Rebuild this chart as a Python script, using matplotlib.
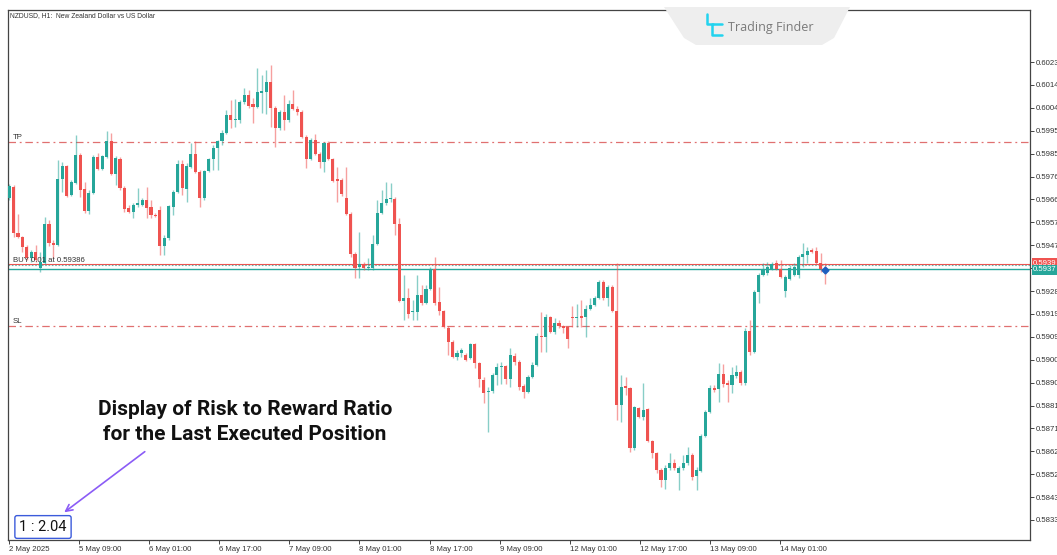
import matplotlib
matplotlib.use("Agg")
import matplotlib.pyplot as plt
import matplotlib.transforms as mtransforms
from matplotlib.patches import Polygon
import numpy as np

# NZDUSD H1 candles (oldest first)
opens = [
    0.59666, 0.59712, 0.59521, 0.59504, 0.59463, 0.59417, 0.59442, 0.59376, 0.59396, 0.59558,
    0.59479, 0.59471, 0.59745, 0.59799, 0.59678, 0.59728, 0.59844, 0.59703, 0.59612, 0.59687,
    0.59836, 0.59786, 0.59836, 0.59902, 0.59765, 0.59828, 0.59707, 0.59624, 0.59608, 0.59637,
    0.59637, 0.59658, 0.59629, 0.59595, 0.59616, 0.59467, 0.59500, 0.59629, 0.59691, 0.59807,
    0.59703, 0.59795, 0.59848, 0.59774, 0.59666, 0.59778, 0.59828, 0.59873, 0.59902, 0.59936,
    0.60010, 0.59989, 0.59989, 0.60064, 0.60093, 0.60056, 0.60043, 0.60101, 0.60106, 0.60147,
    0.60039, 0.59956, 0.60023, 0.59989, 0.60056, 0.60035, 0.60023, 0.59919, 0.59828, 0.59907,
    0.59848, 0.59815, 0.59894, 0.59828, 0.59745, 0.59741, 0.59666, 0.59600, 0.59434, 0.59380,
    0.59388, 0.59376, 0.59376, 0.59475, 0.59604, 0.59645, 0.59662, 0.59662, 0.59558, 0.59239,
    0.59251, 0.59193, 0.59193, 0.59264, 0.59230, 0.59288, 0.59371, 0.59235, 0.59197, 0.59127,
    0.59069, 0.59006, 0.59023, 0.59015, 0.59002, 0.59060, 0.58981, 0.58911, 0.58861, 0.58865,
    0.58932, 0.58965, 0.58969, 0.58915, 0.59011, 0.58986, 0.58886, 0.58861, 0.58923, 0.58973,
    0.59094, 0.59089, 0.59172, 0.59110, 0.59147, 0.59135, 0.59131, 0.59172, 0.59168, 0.59176,
    0.59172, 0.59205, 0.59222, 0.59251, 0.59317, 0.59251, 0.59297, 0.59197, 0.58807, 0.58886,
    0.58878, 0.58629, 0.58795, 0.58758, 0.58791, 0.58658, 0.58608, 0.58538, 0.58496, 0.58546,
    0.58567, 0.58525, 0.58546, 0.58567, 0.58600, 0.58513, 0.58534, 0.58679, 0.58778, 0.58878,
    0.58874, 0.58936, 0.58899, 0.58890, 0.58928, 0.58944, 0.58899, 0.59114, 0.59027, 0.59276,
    0.59346, 0.59355, 0.59371, 0.59396, 0.59371, 0.59280, 0.59330, 0.59346, 0.59346, 0.59421,
    0.59429, 0.59450, 0.59446, 0.59396, 0.59371,
]
highs = [
    0.59724, 0.59720, 0.59600, 0.59508, 0.59471, 0.59450, 0.59471, 0.59442, 0.59587, 0.59575,
    0.59492, 0.59824, 0.59815, 0.59803, 0.59741, 0.59927, 0.59853, 0.59732, 0.59699, 0.59844,
    0.59853, 0.59844, 0.59944, 0.59936, 0.59840, 0.59836, 0.59716, 0.59637, 0.59645, 0.59707,
    0.59666, 0.59712, 0.59658, 0.59604, 0.59633, 0.59512, 0.59637, 0.59699, 0.59824, 0.59824,
    0.59811, 0.59894, 0.59902, 0.59782, 0.59782, 0.59832, 0.59886, 0.59907, 0.59948, 0.60031,
    0.60072, 0.60077, 0.60072, 0.60122, 0.60114, 0.60081, 0.60205, 0.60176, 0.60197, 0.60218,
    0.60048, 0.60031, 0.60093, 0.60072, 0.60114, 0.60048, 0.60031, 0.59927, 0.59915, 0.59931,
    0.59857, 0.59898, 0.59902, 0.59832, 0.59795, 0.59749, 0.59795, 0.59608, 0.59442, 0.59525,
    0.59400, 0.59417, 0.59512, 0.59658, 0.59699, 0.59732, 0.59728, 0.59670, 0.59583, 0.59346,
    0.59293, 0.59243, 0.59346, 0.59305, 0.59305, 0.59380, 0.59421, 0.59297, 0.59201, 0.59135,
    0.59077, 0.59035, 0.59044, 0.59023, 0.59064, 0.59064, 0.58986, 0.58923, 0.58882, 0.58940,
    0.58981, 0.58986, 0.58973, 0.59044, 0.59023, 0.58994, 0.58894, 0.58932, 0.58986, 0.59106,
    0.59193, 0.59185, 0.59176, 0.59168, 0.59160, 0.59139, 0.59135, 0.59218, 0.59226, 0.59243,
    0.59222, 0.59251, 0.59259, 0.59326, 0.59326, 0.59305, 0.59305, 0.59396, 0.58932, 0.58923,
    0.58882, 0.58803, 0.58799, 0.58899, 0.58795, 0.58662, 0.58612, 0.58546, 0.58558, 0.58608,
    0.58583, 0.58554, 0.58600, 0.58633, 0.58608, 0.58550, 0.58687, 0.58787, 0.58890, 0.58890,
    0.58981, 0.58977, 0.58911, 0.58965, 0.58973, 0.58952, 0.59127, 0.59160, 0.59284, 0.59355,
    0.59396, 0.59400, 0.59400, 0.59409, 0.59409, 0.59346, 0.59388, 0.59396, 0.59429, 0.59479,
    0.59463, 0.59458, 0.59463, 0.59438, 0.59396,
]
lows = [
    0.59658, 0.59504, 0.59500, 0.59442, 0.59409, 0.59400, 0.59400, 0.59359, 0.59392, 0.59467,
    0.59417, 0.59467, 0.59691, 0.59670, 0.59674, 0.59724, 0.59670, 0.59604, 0.59600, 0.59683,
    0.59782, 0.59782, 0.59832, 0.59761, 0.59720, 0.59699, 0.59608, 0.59604, 0.59583, 0.59629,
    0.59633, 0.59583, 0.59583, 0.59587, 0.59429, 0.59429, 0.59492, 0.59595, 0.59687, 0.59678,
    0.59649, 0.59790, 0.59770, 0.59629, 0.59658, 0.59774, 0.59782, 0.59782, 0.59886, 0.59931,
    0.59956, 0.59960, 0.59977, 0.60056, 0.60039, 0.59977, 0.60039, 0.60018, 0.60014, 0.59960,
    0.59877, 0.59948, 0.59948, 0.59981, 0.60031, 0.60010, 0.59915, 0.59790, 0.59824, 0.59844,
    0.59790, 0.59774, 0.59824, 0.59732, 0.59649, 0.59674, 0.59595, 0.59421, 0.59334, 0.59334,
    0.59367, 0.59367, 0.59367, 0.59471, 0.59600, 0.59637, 0.59649, 0.59512, 0.59235, 0.59160,
    0.59168, 0.59160, 0.59160, 0.59222, 0.59226, 0.59284, 0.59222, 0.59181, 0.59127, 0.59015,
    0.59002, 0.58994, 0.59006, 0.58990, 0.58998, 0.58961, 0.58882, 0.58816, 0.58695, 0.58857,
    0.58890, 0.58894, 0.58894, 0.58882, 0.58973, 0.58869, 0.58836, 0.58857, 0.58919, 0.58969,
    0.59027, 0.59027, 0.59106, 0.59102, 0.59127, 0.59106, 0.59044, 0.59131, 0.59131, 0.59131,
    0.59089, 0.59201, 0.59218, 0.59247, 0.59243, 0.59218, 0.59193, 0.58745, 0.58737, 0.58849,
    0.58612, 0.58621, 0.58753, 0.58745, 0.58654, 0.58587, 0.58525, 0.58467, 0.58459, 0.58538,
    0.58538, 0.58455, 0.58538, 0.58558, 0.58496, 0.58455, 0.58529, 0.58675, 0.58774, 0.58861,
    0.58820, 0.58882, 0.58820, 0.58857, 0.58919, 0.58890, 0.58890, 0.59015, 0.59023, 0.59230,
    0.59342, 0.59346, 0.59367, 0.59367, 0.59334, 0.59255, 0.59326, 0.59342, 0.59334, 0.59380,
    0.59396, 0.59438, 0.59392, 0.59359, 0.59309,
]
closes = [
    0.59716, 0.59521, 0.59504, 0.59463, 0.59417, 0.59442, 0.59409, 0.59400, 0.59558, 0.59479,
    0.59471, 0.59745, 0.59799, 0.59674, 0.59732, 0.59844, 0.59699, 0.59612, 0.59687, 0.59836,
    0.59786, 0.59840, 0.59902, 0.59765, 0.59832, 0.59707, 0.59620, 0.59608, 0.59637, 0.59645,
    0.59658, 0.59624, 0.59595, 0.59591, 0.59467, 0.59500, 0.59633, 0.59691, 0.59807, 0.59707,
    0.59799, 0.59848, 0.59774, 0.59666, 0.59778, 0.59828, 0.59873, 0.59902, 0.59936, 0.60010,
    0.59989, 0.59994, 0.60064, 0.60093, 0.60048, 0.60043, 0.60106, 0.60110, 0.60147, 0.60039,
    0.59956, 0.60023, 0.59989, 0.60056, 0.60035, 0.60023, 0.59919, 0.59828, 0.59907, 0.59848,
    0.59815, 0.59894, 0.59828, 0.59736, 0.59736, 0.59683, 0.59600, 0.59434, 0.59376, 0.59392,
    0.59376, 0.59380, 0.59475, 0.59604, 0.59645, 0.59662, 0.59666, 0.59558, 0.59239, 0.59251,
    0.59185, 0.59197, 0.59264, 0.59230, 0.59288, 0.59371, 0.59230, 0.59197, 0.59131, 0.59069,
    0.59006, 0.59023, 0.59035, 0.58994, 0.59060, 0.58981, 0.58915, 0.58857, 0.58865, 0.58932,
    0.58965, 0.58969, 0.58915, 0.59015, 0.58986, 0.58882, 0.58861, 0.58923, 0.58973, 0.59094,
    0.59089, 0.59172, 0.59110, 0.59147, 0.59135, 0.59127, 0.59081, 0.59168, 0.59172, 0.59168,
    0.59205, 0.59222, 0.59251, 0.59317, 0.59251, 0.59297, 0.59197, 0.58807, 0.58882, 0.58878,
    0.58629, 0.58799, 0.58758, 0.58787, 0.58658, 0.58608, 0.58538, 0.58496, 0.58546, 0.58567,
    0.58546, 0.58546, 0.58567, 0.58600, 0.58509, 0.58538, 0.58679, 0.58778, 0.58878, 0.58869,
    0.58936, 0.58894, 0.58890, 0.58932, 0.58944, 0.58899, 0.59114, 0.59027, 0.59276, 0.59346,
    0.59371, 0.59380, 0.59392, 0.59371, 0.59338, 0.59338, 0.59376, 0.59380, 0.59421, 0.59434,
    0.59446, 0.59442, 0.59396, 0.59371, 0.59367,
]

time_labels = ["2 May 2025", "5 May 09:00", "6 May 01:00", "6 May 17:00", "7 May 09:00",
               "8 May 01:00", "8 May 17:00", "9 May 09:00", "12 May 01:00", "12 May 17:00",
               "13 May 09:00", "14 May 01:00"]
price_ticks = [0.60230, 0.60135, 0.60040, 0.59945, 0.59850, 0.59755, 0.59660, 0.59565, 0.59470,
               0.59375, 0.59280, 0.59185, 0.59090, 0.58995, 0.58900, 0.58805, 0.58710, 0.58615,
               0.58520, 0.58425, 0.58330]
price_labels = ["0.6023", "0.6014", "0.6004", "0.5995", "0.5985", "0.5976", "0.5966", "0.5957",
                "0.5947", "0.5938", "0.5928", "0.5919", "0.5909", "0.5900", "0.5890", "0.5881",
                "0.5871", "0.5862", "0.5852", "0.5843", "0.5833"]

tp_price = 0.59898
sl_price = 0.59135
entry_price = 0.59386
ask_price = 0.59392
bid_price = 0.59372
rr_text = "1 : 2.04"

BULL = "#26a69a"
BEAR = "#ef5350"
LEVEL = "#e07070"
W, H = 1057, 555

fig = plt.figure(figsize=(W / 100, H / 100), dpi=100)
ax = fig.add_axes([8 / W, 15 / H, 1022 / W, 530 / H])

o = np.array(opens)
h = np.array(highs)
l = np.array(lows)
c = np.array(closes)
x = np.arange(len(c))
up = c >= o
colors = np.where(up, BULL, BEAR)

ax.vlines(x, l, h, colors=colors, linewidth=1.0, alpha=0.55, zorder=2)
body = np.maximum(np.abs(c - o), 0.00003)
ax.bar(x, body, bottom=np.minimum(o, c), width=0.7, color=colors, linewidth=0, zorder=3)

# trade levels
dash = (0, (6, 3, 1.5, 3))
ax.axhline(tp_price, color=LEVEL, lw=0.9, ls=dash, zorder=1)
ax.axhline(sl_price, color=LEVEL, lw=0.9, ls=dash, zorder=1)
ax.axhline(ask_price, color=BEAR, lw=0.8, zorder=1)
ax.axhline(entry_price, color="#6fb5ae", lw=0.8, ls=(0, (1.5, 1.5)), zorder=1)
ax.axhline(bid_price, color=BULL, lw=1.0, zorder=1)

small = dict(fontsize=5.6, family="Liberation Sans", color="#333333")
ax.text(0.8, tp_price + 0.00003, "TP", va="bottom", ha="left", **small)
ax.text(0.8, sl_price + 0.00003, "SL", va="bottom", ha="left", **small)
ax.text(0.8, ask_price + 0.00002, f"BUY 0.01 at {entry_price:.5f}", va="bottom", ha="left", **small)

ax.plot([x[-1]], [c[-1]], marker="D", ms=3.5, color="#1f5fbf", zorder=5)

ax.set_xlim(-0.25, 230.2)
ax.set_ylim(0.58247, 0.60446)

# axes / ticks in terminal style
for s in ax.spines.values():
    s.set_color("#444444")
    s.set_linewidth(0.9)
ax.yaxis.tick_right()
ax.set_yticks(price_ticks)
ax.set_yticklabels(price_labels)
ax.set_xticks(np.arange(len(time_labels)) * 15.8)
ax.set_xticklabels(time_labels)
ax.tick_params(axis="both", direction="out", length=3, width=0.7, color="#444444",
               labelsize=5.6, labelcolor="#333333", pad=1.5)
for lab in ax.get_xticklabels() + ax.get_yticklabels():
    lab.set_family("Liberation Sans")
for lab in ax.get_xticklabels():
    lab.set_horizontalalignment("left")

# price tags on the right scale
blend = mtransforms.blended_transform_factory(ax.transAxes, ax.transData)
ax.text(1.003, ask_price + 0.00003, f"{ask_price:.4f}", transform=blend, ha="left", va="center",
        fontsize=5.6, family="Liberation Sans", color="white", clip_on=False, zorder=6,
        bbox=dict(boxstyle="square,pad=0.2", fc=BEAR, ec="none"))
ax.text(1.003, bid_price - 0.00003, f"{bid_price:.4f}", transform=blend, ha="left", va="center",
        fontsize=5.6, family="Liberation Sans", color="white", clip_on=False, zorder=7,
        bbox=dict(boxstyle="square,pad=0.2", fc=BULL, ec="none"))

ax.text(0.002, 0.996, "NZDUSD, H1:  New Zealand Dollar vs US Dollar", transform=ax.transAxes,
        ha="left", va="top", fontsize=4.9, family="Liberation Sans", color="#333333")

# Trading Finder tab
tab = Polygon([(664 / W, 1 - 7 / H), (850 / W, 1 - 7 / H), (834 / W, 1 - 38 / H),
               (822 / W, 1 - 45 / H), (696 / W, 1 - 45 / H), (684 / W, 1 - 38 / H)],
              closed=True, transform=fig.transFigure, fc="#eeeeee", ec="none", zorder=10)
fig.patches.append(tab)
icon = dict(color="#22d3ee", lw=1.8, transform=fig.transFigure, zorder=11, solid_capstyle="round")
fig.lines.append(plt.Line2D([707 / W, 707 / W, 713 / W], [1 - 14 / H, 1 - 24 / H, 1 - 24 / H], **icon))
fig.lines.append(plt.Line2D([722 / W, 712 / W, 712 / W, 722 / W],
                            [1 - 24 / H, 1 - 24 / H, 1 - 35 / H, 1 - 35 / H], **icon))
fig.text(728 / W, 1 - 27 / H, "Trading Finder", ha="left", va="center", fontsize=9,
         family="Open Sans", color="#7a7a7a", zorder=11)

# annotation
fig.text(245 / W, 1 - 422 / H, "Display of Risk to Reward Ratio\nfor the Last Executed Position",
         ha="center", va="center", fontsize=15, family="Roboto", weight="bold",
         color="#111111", linespacing=1.4)
fig.text(43 / W, 1 - 527 / H, rr_text, ha="center", va="center", fontsize=10.5, family="Roboto",
         color="#111111", bbox=dict(boxstyle="round,pad=0.3,rounding_size=0.15", fc="white",
                                    ec="#3b5bdb", lw=1.0))
ax.annotate("", xy=(62, H - 514), xytext=(147, H - 450), xycoords="figure pixels",
            textcoords="figure pixels",
            arrowprops=dict(arrowstyle="->", color="#8b5cf6", lw=1.2, mutation_scale=12))

fig.savefig("out.png", dpi=100, facecolor="white")
